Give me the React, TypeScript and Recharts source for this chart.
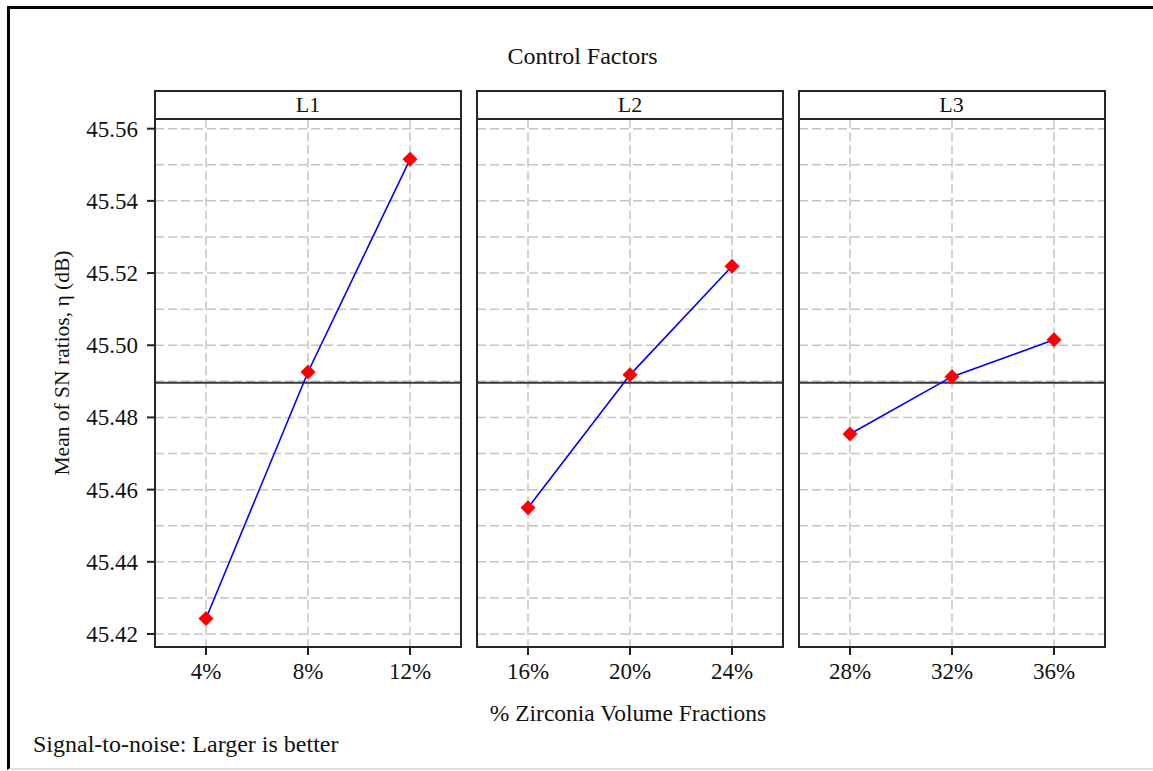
import React from "react";
import {
  LineChart,
  Line,
  XAxis,
  YAxis,
  CartesianGrid,
  ReferenceLine,
} from "recharts";

// Main effects plot for SN ratios, one panel per control-factor level group.

const FONT = "'Liberation Serif', 'Times New Roman', serif";
const FONT_SIZE = 23;

const levelsL1 = [4, 8, 12];
const levelsL2 = [16, 20, 24];
const levelsL3 = [28, 32, 36];

const snL1 = [45.4243, 45.4926, 45.5515];
const snL2 = [45.455, 45.4918, 45.5219];
const snL3 = [45.4754, 45.4913, 45.5015];

const overallMean = 45.4896;

const yTicks = [
  45.42, 45.43, 45.44, 45.45, 45.46, 45.47, 45.48, 45.49, 45.5, 45.51, 45.52,
  45.53, 45.54, 45.55, 45.56,
];
const yDomain: [number, number] = [45.4164, 45.5626];

const PLOT_TOP = 119.3;
const PLOT_BOTTOM = 647;
const PANEL_W = 306;
const Y_AXIS_W = 155;

const Diamond = (props: any) => {
  const { cx, cy, index } = props;
  if (cx == null || cy == null) return <g key={index} />;
  const r = 7.5;
  return (
    <polygon
      key={index}
      points={`${cx},${cy - r} ${cx + r},${cy} ${cx},${cy + r} ${cx - r},${cy}`}
      fill="#ff0000"
    />
  );
};

const YTick = (props: any) => {
  const { x, y, payload } = props;
  const v = payload.value as number;
  if (Math.round(v * 100) % 2 !== 0) return <g />;
  return (
    <g>
      <line x1={x + 9} x2={x + 17} y1={y} y2={y} stroke="#222" strokeWidth={2} />
      <text
        x={x}
        y={y}
        dy={8}
        textAnchor="end"
        fill="#111"
        fontFamily={FONT}
        fontSize={FONT_SIZE}
      >
        {v.toFixed(2)}
      </text>
    </g>
  );
};

interface PanelProps {
  left: number;
  label: string;
  levels: number[];
  values: number[];
  showY: boolean;
}

function Panel({ left, label, levels, values, showY }: PanelProps) {
  const data = levels.map((lv, i) => ({ level: lv, sn: values[i] }));
  const step = levels[1] - levels[0];
  const xDomain: [number, number] = [
    levels[0] - step / 2,
    levels[levels.length - 1] + step / 2,
  ];
  const yw = showY ? Y_AXIS_W : 0;
  const chartLeft = left - yw;
  const chartW = yw + PANEL_W + 10;
  return (
    <>
      <div style={{ position: "absolute", left: chartLeft, top: 0 }}>
        <LineChart
          width={chartW}
          height={771}
          data={data}
          margin={{ top: PLOT_TOP, right: 10, bottom: 771 - PLOT_BOTTOM - 30, left: 0 }}
        >
          <CartesianGrid stroke="#c4c4c4" strokeWidth={1.5} strokeDasharray="9 4" />
          <XAxis
            dataKey="level"
            type="number"
            domain={xDomain}
            ticks={levels}
            allowDataOverflow
            height={30}
            axisLine={false}
            tickSize={8}
            tickMargin={8}
            tickLine={{ stroke: "#222", strokeWidth: 2 }}
            tick={{ fill: "#111", fontFamily: FONT, fontSize: FONT_SIZE }}
            tickFormatter={(v) => `${v}%`}
            interval={0}
          />
          <YAxis
            type="number"
            domain={yDomain}
            ticks={yTicks}
            allowDataOverflow
            width={yw}
            axisLine={false}
            tickLine={false}
            tickSize={8}
            tickMargin={9}
            interval={0}
            tick={showY ? <YTick /> : () => <g />}
          />
          <ReferenceLine y={overallMean} stroke="#3a3a3a" strokeWidth={2} />
          <Line
            dataKey="sn"
            stroke="#0000ff"
            strokeWidth={1.6}
            dot={<Diamond />}
            activeDot={false}
            isAnimationActive={false}
          />
        </LineChart>
      </div>
      {/* plot frame */}
      <div
        style={{
          position: "absolute",
          left: left - 1,
          top: PLOT_TOP - 1,
          width: PANEL_W + 2,
          height: PLOT_BOTTOM - PLOT_TOP + 2,
          border: "2px solid #262626",
          boxSizing: "border-box",
          pointerEvents: "none",
        }}
      />
      {/* strip header */}
      <div
        style={{
          position: "absolute",
          left: left - 1,
          top: 89.7,
          width: PANEL_W + 2,
          height: PLOT_TOP - 89.7 + 1,
          border: "2px solid #262626",
          boxSizing: "border-box",
          background: "#fff",
          display: "flex",
          alignItems: "center",
          justifyContent: "center",
          fontFamily: FONT,
          fontSize: FONT_SIZE - 1,
          color: "#111",
          lineHeight: 1,
        }}
      >
        {label}
      </div>
    </>
  );
}

export default function App() {
  return (
    <div
      style={{
        position: "absolute",
        left: 0,
        top: 0,
        width: 1153,
        height: 771,
        overflow: "hidden",
        background: "#fff",
      }}
    >
      {/* outer frame, cut off on the right */}
      <div
        style={{
          position: "absolute",
          left: 7,
          top: 6,
          width: 1160,
          height: 764,
          borderTop: "3px solid #000",
          borderLeft: "3px solid #000",
          borderBottom: "2px solid #e0e0e0",
          boxSizing: "border-box",
        }}
      />
      <Panel left={155} label="L1" levels={levelsL1} values={snL1} showY />
      <Panel left={477} label="L2" levels={levelsL2} values={snL2} showY={false} />
      <Panel left={798.5} label="L3" levels={levelsL3} values={snL3} showY={false} />
      <svg
        width={1153}
        height={771}
        style={{ position: "absolute", left: 0, top: 0, pointerEvents: "none" }}
      >
        <g fontFamily={FONT} fill="#111">
          <text x={582.5} y={64} textAnchor="middle" fontSize={24}>
            Control Factors
          </text>
          <text x={628} y={721} textAnchor="middle" fontSize={23.5}>
            % Zirconia Volume Fractions
          </text>
          <text
            x={0}
            y={0}
            transform="translate(69,363) rotate(-90)"
            textAnchor="middle"
            fontSize={21.5}
          >
            Mean of SN ratios, η (dB)
          </text>
          <text x={33} y={752} fontSize={24}>
            Signal-to-noise: Larger is better
          </text>
        </g>
      </svg>
    </div>
  );
}
